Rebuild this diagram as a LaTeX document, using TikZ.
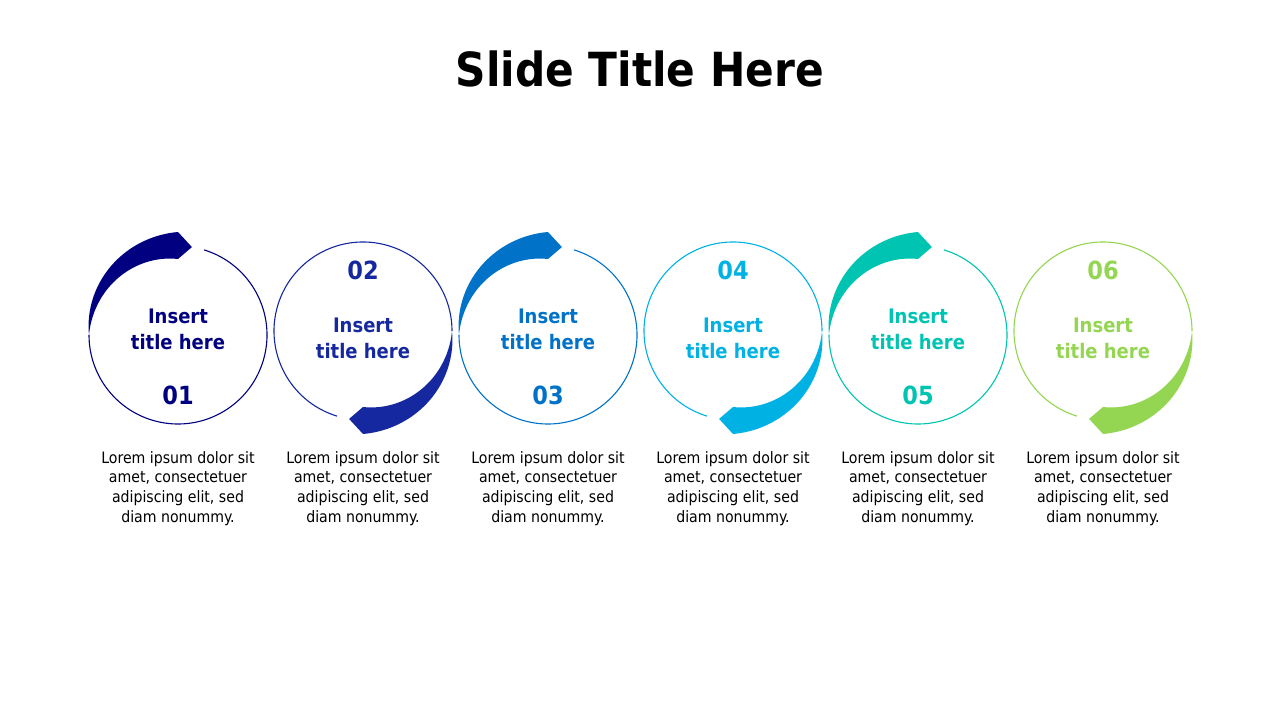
\documentclass[tikz,border=0pt]{standalone}
\usepackage{fontspec}
\setmainfont{DejaVu Sans Condensed}

\definecolor{stepA}{RGB}{0,0,128}
\definecolor{stepB}{RGB}{22,40,160}
\definecolor{stepC}{RGB}{0,114,200}
\definecolor{stepD}{RGB}{0,178,228}
\definecolor{stepE}{RGB}{0,196,178}
\definecolor{stepF}{RGB}{148,214,82}

\tikzset{
    ringline/.style={line width=1.1pt},
    ringtitle/.style={font=\bfseries\fontsize{20}{26}\selectfont, align=center},
    ringnum/.style={font=\bfseries\fontsize{25}{30}\selectfont},
    ringdesc/.style={font=\fontsize{15.7}{19.7}\selectfont, align=center},
}

% thin ring + growing band, drawn round (#2,#3), turned by #4
\newcommand{\ringband}[4]{%
    \begin{scope}[shift={(#2,#3)}, rotate=#4]
        \draw[#1, ringline] (73:89pt) arc[start angle=73, end angle=-180, radius=89pt];
        \fill[#1] plot[domain=180:90, samples=40] ({\x}:{89+14*(180-\x)/90}) -- (81:89pt)
            -- plot[domain=90:180, samples=40] ({\x}:{89-13*(180-\x)/90}) -- cycle;
    \end{scope}}

\begin{document}
\begin{tikzpicture}[x=1pt, y=1pt]
        \useasboundingbox (0,0) rectangle (1280,720);
        \fill[white] (0,0) rectangle (1280,720);

        \node[font=\bfseries\fontsize{47}{54}\selectfont] (title) at (640,651) {Slide Title Here};

        % 01
        \ringband{stepA}{178}{385}{0}
        \node[ringtitle, stepA] (t1) at (178,391) {Insert\\title here};
        \node[ringnum, stepA] (n1) at (178,325) {01};
        \node[ringdesc] (d1) at (178,231.5) {Lorem ipsum dolor sit\\amet, consectetuer\\adipiscing elit, sed\\diam nonummy.};

        % 02
        \ringband{stepB}{363}{389}{180}
        \node[ringtitle, stepB] (t2) at (363,382) {Insert\\title here};
        \node[ringnum, stepB] (n2) at (363,450) {02};
        \node[ringdesc] (d2) at (363,231.5) {Lorem ipsum dolor sit\\amet, consectetuer\\adipiscing elit, sed\\diam nonummy.};

        % 03
        \ringband{stepC}{548}{385}{0}
        \node[ringtitle, stepC] (t3) at (548,391) {Insert\\title here};
        \node[ringnum, stepC] (n3) at (548,325) {03};
        \node[ringdesc] (d3) at (548,231.5) {Lorem ipsum dolor sit\\amet, consectetuer\\adipiscing elit, sed\\diam nonummy.};

        % 04
        \ringband{stepD}{733}{389}{180}
        \node[ringtitle, stepD] (t4) at (733,382) {Insert\\title here};
        \node[ringnum, stepD] (n4) at (733,450) {04};
        \node[ringdesc] (d4) at (733,231.5) {Lorem ipsum dolor sit\\amet, consectetuer\\adipiscing elit, sed\\diam nonummy.};

        % 05
        \ringband{stepE}{918}{385}{0}
        \node[ringtitle, stepE] (t5) at (918,391) {Insert\\title here};
        \node[ringnum, stepE] (n5) at (918,325) {05};
        \node[ringdesc] (d5) at (918,231.5) {Lorem ipsum dolor sit\\amet, consectetuer\\adipiscing elit, sed\\diam nonummy.};

        % 06
        \ringband{stepF}{1103}{389}{180}
        \node[ringtitle, stepF] (t6) at (1103,382) {Insert\\title here};
        \node[ringnum, stepF] (n6) at (1103,450) {06};
        \node[ringdesc] (d6) at (1103,231.5) {Lorem ipsum dolor sit\\amet, consectetuer\\adipiscing elit, sed\\diam nonummy.};

\end{tikzpicture}
\end{document}
